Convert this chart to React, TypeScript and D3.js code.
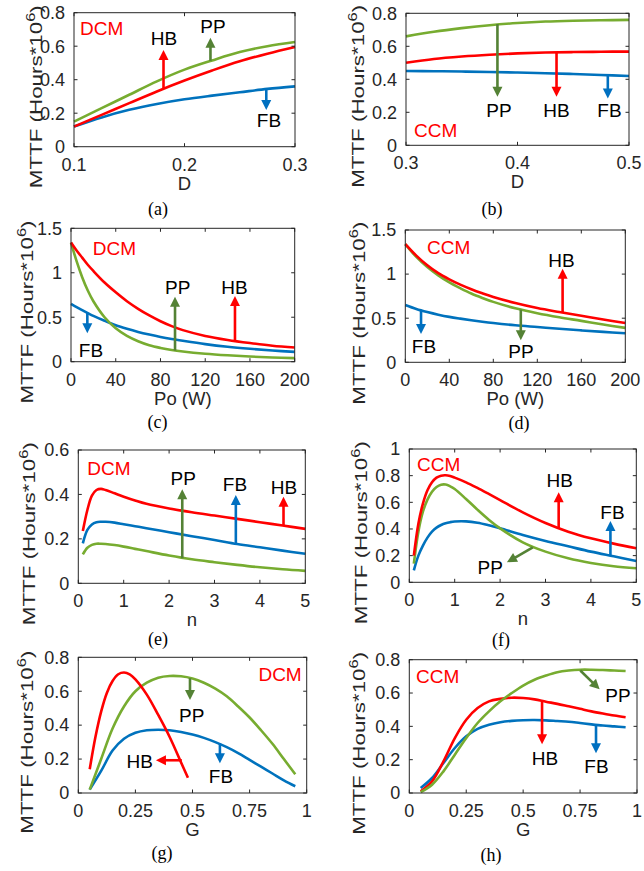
import React from 'react';
import * as d3 from 'd3';

// ---------- data ----------
// (a) DCM vs D
const aX = [0.1, 0.125, 0.15, 0.175, 0.2, 0.225, 0.25, 0.275, 0.3];
const aHB = [0.12, 0.19, 0.26, 0.33, 0.395, 0.455, 0.51, 0.555, 0.595];
const aPP = [0.15, 0.23, 0.31, 0.39, 0.46, 0.515, 0.565, 0.6, 0.625];
const aFB = [0.12, 0.175, 0.22, 0.255, 0.283, 0.305, 0.325, 0.345, 0.36];
// (b) CCM vs D
const bX = [0.3, 0.325, 0.35, 0.375, 0.4, 0.425, 0.45, 0.475, 0.5];
const bPP = [0.66, 0.688, 0.71, 0.728, 0.741, 0.75, 0.755, 0.758, 0.76];
const bHB = [0.5, 0.523, 0.538, 0.549, 0.557, 0.562, 0.565, 0.567, 0.568];
const bFB = [0.45, 0.449, 0.447, 0.444, 0.441, 0.437, 0.432, 0.426, 0.42];
// (c) DCM vs Po
const cX = [0, 5, 10, 15, 20, 30, 40, 50, 60, 70, 80, 90, 100, 120, 140, 160, 180, 200];
const cHB = [1.34, 1.25, 1.17, 1.09, 1.02, 0.89, 0.78, 0.68, 0.595, 0.52, 0.455, 0.4, 0.355, 0.29, 0.245, 0.21, 0.18, 0.16];
const cPP = [1.34, 1.13, 0.95, 0.8, 0.68, 0.5, 0.375, 0.29, 0.23, 0.185, 0.155, 0.132, 0.115, 0.09, 0.072, 0.058, 0.048, 0.04];
const cFB = [0.65, 0.614, 0.58, 0.547, 0.515, 0.46, 0.41, 0.37, 0.335, 0.305, 0.278, 0.255, 0.235, 0.198, 0.168, 0.145, 0.126, 0.11];
// (d) CCM vs Po
const dX = [0, 10, 20, 30, 40, 50, 60, 70, 80, 100, 120, 140, 160, 180, 200];
const dHB = [1.34, 1.21, 1.1, 1.01, 0.94, 0.88, 0.828, 0.782, 0.74, 0.672, 0.615, 0.57, 0.528, 0.485, 0.445];
const dPP = [1.34, 1.195, 1.08, 0.985, 0.905, 0.84, 0.78, 0.73, 0.685, 0.612, 0.556, 0.51, 0.47, 0.428, 0.39];
const dFB = [0.65, 0.605, 0.57, 0.54, 0.515, 0.495, 0.477, 0.46, 0.445, 0.42, 0.4, 0.38, 0.362, 0.345, 0.33];
// (e) DCM vs n
const eX = [0.1, 0.2, 0.3, 0.4, 0.5, 0.6, 0.8, 1, 1.25, 1.5, 2, 2.5, 3, 3.5, 4, 4.5, 5];
const eHB = [0.235, 0.33, 0.395, 0.42, 0.425, 0.42, 0.405, 0.39, 0.373, 0.358, 0.337, 0.32, 0.305, 0.29, 0.275, 0.26, 0.245];
const eFB = [0.18, 0.24, 0.265, 0.275, 0.277, 0.277, 0.273, 0.266, 0.257, 0.248, 0.23, 0.212, 0.195, 0.177, 0.162, 0.147, 0.133];
const ePP = [0.13, 0.16, 0.173, 0.178, 0.178, 0.177, 0.172, 0.165, 0.155, 0.145, 0.125, 0.108, 0.095, 0.083, 0.072, 0.063, 0.056];
// (f) CCM vs n
const fX = [0.1, 0.2, 0.3, 0.4, 0.5, 0.6, 0.7, 0.8, 0.9, 1, 1.25, 1.5, 1.75, 2, 2.5, 3, 3.5, 4, 4.5, 5];
const fHB = [0.2, 0.44, 0.59, 0.69, 0.75, 0.785, 0.8, 0.803, 0.797, 0.785, 0.75, 0.708, 0.663, 0.617, 0.525, 0.445, 0.38, 0.33, 0.29, 0.255];
const fPP = [0.14, 0.38, 0.53, 0.62, 0.68, 0.715, 0.732, 0.733, 0.72, 0.7, 0.625, 0.545, 0.47, 0.405, 0.3, 0.23, 0.18, 0.145, 0.12, 0.105];
const fFB = [0.09, 0.2, 0.275, 0.335, 0.38, 0.41, 0.43, 0.443, 0.451, 0.456, 0.457, 0.447, 0.428, 0.405, 0.355, 0.31, 0.27, 0.23, 0.195, 0.16];
// (g) DCM vs G
const gHBX = [0.05, 0.075, 0.1, 0.125, 0.15, 0.175, 0.2, 0.225, 0.25, 0.3, 0.35, 0.4, 0.45, 0.48];
const gHB = [0.14, 0.33, 0.48, 0.59, 0.66, 0.7, 0.71, 0.7, 0.67, 0.58, 0.46, 0.33, 0.18, 0.09];
const gX = [0.05, 0.1, 0.15, 0.2, 0.25, 0.3, 0.35, 0.4, 0.45, 0.5, 0.55, 0.6, 0.65, 0.7, 0.75, 0.8, 0.85, 0.9, 0.95];
const gPP = [0.02, 0.2, 0.38, 0.51, 0.6, 0.65, 0.68, 0.69, 0.688, 0.675, 0.65, 0.615, 0.57, 0.51, 0.445, 0.37, 0.29, 0.2, 0.11];
const gFB = [0.02, 0.13, 0.25, 0.32, 0.355, 0.37, 0.373, 0.37, 0.36, 0.345, 0.325, 0.3, 0.27, 0.235, 0.195, 0.155, 0.115, 0.075, 0.04];
// (h) CCM vs G
const hX = [0.05, 0.1, 0.15, 0.2, 0.25, 0.3, 0.35, 0.4, 0.45, 0.5, 0.55, 0.6, 0.65, 0.7, 0.75, 0.8, 0.85, 0.9, 0.95];
const hHB = [0.01, 0.07, 0.19, 0.33, 0.44, 0.51, 0.55, 0.565, 0.572, 0.57, 0.562, 0.548, 0.535, 0.52, 0.505, 0.49, 0.477, 0.465, 0.455];
const hFB = [0.03, 0.09, 0.18, 0.27, 0.34, 0.385, 0.41, 0.425, 0.433, 0.437, 0.438, 0.436, 0.432, 0.428, 0.42, 0.412, 0.405, 0.4, 0.395];
const hPP = [0.005, 0.05, 0.13, 0.23, 0.33, 0.42, 0.49, 0.55, 0.6, 0.645, 0.68, 0.705, 0.725, 0.735, 0.74, 0.74, 0.738, 0.735, 0.732];

// tick values
const tD1 = [0.1, 0.2, 0.3];
const tD2 = [0.3, 0.4, 0.5];
const tY08 = [0, 0.2, 0.4, 0.6, 0.8];
const tPo = [0, 40, 80, 120, 160, 200];
const tY15 = [0, 0.5, 1, 1.5];
const tN = [0, 1, 2, 3, 4, 5];
const tY06 = [0, 0.2, 0.4, 0.6];
const tY1 = [0, 0.2, 0.4, 0.6, 0.8, 1];
const tG = [0, 0.25, 0.5, 0.75, 1];

// ---------- styles ----------
const RED = '#FF0000';
const GREEN = '#77AC30';
const BLUE = '#0072BD';
const GREEN_A = '#548235';
const BLUE_A = '#0070C0';
const AX = '#262626';
const SANS = "'Liberation Sans', Arial, sans-serif";
const SERIF = "'Liberation Serif', 'Times New Roman', serif";

type S = { x: number[]; y: number[]; c: string };
type A = { f: [number, number]; t: [number, number]; c: string };
type L = { s: string; x: number; y: number; c?: string; a?: string };
type P = {
  box: [number, number, number, number];
  xd: [number, number]; yd: [number, number];
  xt: number[]; yt: number[];
  xl: string; cap: string; capX: number; capY: number;
  ylX: number;
  series: S[]; arrows: A[]; labels: L[];
};

const panels: P[] = [
  {
    box: [74, 295, 12.7, 146.7], xd: [0.1, 0.3], yd: [0, 0.8], xt: tD1, yt: tY08,
    xl: 'D', cap: '(a)', capX: 158, capY: 215, ylX: 42,
    series: [{ x: aX, y: aFB, c: BLUE }, { x: aX, y: aPP, c: GREEN }, { x: aX, y: aHB, c: RED }],
    arrows: [
      { f: [0.181, 0.345], t: [0.181, 0.577], c: RED },
      { f: [0.2235, 0.512], t: [0.2235, 0.65], c: GREEN_A },
      { f: [0.274, 0.344], t: [0.274, 0.219], c: BLUE_A },
    ],
    labels: [
      { s: 'DCM', x: 80, y: 35, c: RED, a: 'start' },
      { s: 'HB', x: 164, y: 45 }, { s: 'PP', x: 213, y: 33 }, { s: 'FB', x: 269, y: 127 },
    ],
  },
  {
    box: [406, 629, 13.3, 145.3], xd: [0.3, 0.5], yd: [0, 0.8], xt: tD2, yt: tY08,
    xl: 'D', cap: '(b)', capX: 492, capY: 215, ylX: 364,
    series: [{ x: bX, y: bFB, c: BLUE }, { x: bX, y: bPP, c: GREEN }, { x: bX, y: bHB, c: RED }],
    arrows: [
      { f: [0.382, 0.735], t: [0.382, 0.294], c: GREEN_A },
      { f: [0.435, 0.563], t: [0.435, 0.294], c: RED },
      { f: [0.481, 0.426], t: [0.481, 0.284], c: BLUE_A },
    ],
    labels: [
      { s: 'CCM', x: 414, y: 137, c: RED, a: 'start' },
      { s: 'PP', x: 499, y: 117 }, { s: 'HB', x: 556.5, y: 117 }, { s: 'FB', x: 609.5, y: 117 },
    ],
  },
  {
    box: [71, 294.7, 228.3, 361.7], xd: [0, 200], yd: [0, 1.5], xt: tPo, yt: tY15,
    xl: 'Po (W)', cap: '(c)', capX: 157.5, capY: 428, ylX: 33,
    series: [{ x: cX, y: cFB, c: BLUE }, { x: cX, y: cPP, c: GREEN }, { x: cX, y: cHB, c: RED }],
    arrows: [
      { f: [93, 0.125], t: [93, 0.73], c: GREEN_A },
      { f: [146.6, 0.235], t: [146.6, 0.74], c: RED },
      { f: [14.6, 0.55], t: [14.6, 0.32], c: BLUE_A },
    ],
    labels: [
      { s: 'DCM', x: 92.7, y: 255, c: RED, a: 'start' },
      { s: 'PP', x: 177.7, y: 294 }, { s: 'HB', x: 234.5, y: 294 }, { s: 'FB', x: 91, y: 357 },
    ],
  },
  {
    box: [405.3, 625.3, 230, 362.3], xd: [0, 200], yd: [0, 1.5], xt: tPo, yt: tY15,
    xl: 'Po (W)', cap: '(d)', capX: 519, capY: 429, ylX: 365,
    series: [{ x: dX, y: dFB, c: BLUE }, { x: dX, y: dPP, c: GREEN }, { x: dX, y: dHB, c: RED }],
    arrows: [
      { f: [143, 0.565], t: [143, 1.06], c: RED },
      { f: [105, 0.597], t: [105, 0.25], c: GREEN_A },
      { f: [14.3, 0.59], t: [14.3, 0.32], c: BLUE_A },
    ],
    labels: [
      { s: 'CCM', x: 427, y: 254, c: RED, a: 'start' },
      { s: 'HB', x: 561.5, y: 266.5 }, { s: 'PP', x: 521, y: 358 }, { s: 'FB', x: 424, y: 353 },
    ],
  },
  {
    box: [78.3, 305.3, 450, 583.3], xd: [0, 5], yd: [0, 0.6], xt: tN, yt: tY06,
    xl: 'n', cap: '(e)', capX: 158, capY: 645, ylX: 35,
    series: [{ x: eX, y: ePP, c: GREEN }, { x: eX, y: eFB, c: BLUE }, { x: eX, y: eHB, c: RED }],
    arrows: [
      { f: [2.29, 0.113], t: [2.29, 0.423], c: GREEN_A },
      { f: [3.47, 0.175], t: [3.47, 0.398], c: BLUE_A },
      { f: [4.52, 0.26], t: [4.52, 0.39], c: RED },
    ],
    labels: [
      { s: 'DCM', x: 87.3, y: 475, c: RED, a: 'start' },
      { s: 'PP', x: 183.3, y: 485 }, { s: 'FB', x: 235, y: 491 }, { s: 'HB', x: 284, y: 494 },
    ],
  },
  {
    box: [409.3, 636.3, 449, 582.3], xd: [0, 5], yd: [0, 1], xt: tN, yt: tY1,
    xl: 'n', cap: '(f)', capX: 501, capY: 646, ylX: 367,
    series: [{ x: fX, y: fFB, c: BLUE }, { x: fX, y: fPP, c: GREEN }, { x: fX, y: fHB, c: RED }],
    arrows: [
      { f: [3.29, 0.405], t: [3.29, 0.675], c: RED },
      { f: [4.43, 0.2], t: [4.43, 0.46], c: BLUE_A },
      { f: [2.72, 0.262], t: [2.15, 0.15], c: GREEN_A },
    ],
    labels: [
      { s: 'CCM', x: 417, y: 471, c: RED, a: 'start' },
      { s: 'HB', x: 559.8, y: 487 }, { s: 'FB', x: 612.5, y: 519 }, { s: 'PP', x: 490.3, y: 574 },
    ],
  },
  {
    box: [78.3, 306.7, 657.3, 793], xd: [0, 1], yd: [0, 0.8], xt: tG, yt: tY08,
    xl: 'G', cap: '(g)', capX: 162, capY: 859, ylX: 33,
    series: [{ x: gX, y: gFB, c: BLUE }, { x: gX, y: gPP, c: GREEN }, { x: gHBX, y: gHB, c: RED }],
    arrows: [
      { f: [0.489, 0.677], t: [0.489, 0.548], c: GREEN_A },
      { f: [0.62, 0.292], t: [0.62, 0.175], c: BLUE_A },
      { f: [0.453, 0.193], t: [0.34, 0.193], c: RED },
    ],
    labels: [
      { s: 'DCM', x: 301.7, y: 681, c: RED, a: 'end' },
      { s: 'PP', x: 191.7, y: 721.5 }, { s: 'FB', x: 221, y: 783 }, { s: 'HB', x: 139.7, y: 768 },
    ],
  },
  {
    box: [409.3, 637, 659.7, 793], xd: [0, 1], yd: [0, 0.8], xt: tG, yt: tY08,
    xl: 'G', cap: '(h)', capX: 491, capY: 861, ylX: 365,
    series: [{ x: hX, y: hFB, c: BLUE }, { x: hX, y: hHB, c: RED }, { x: hX, y: hPP, c: GREEN }],
    arrows: [
      { f: [0.751, 0.735], t: [0.836, 0.622], c: GREEN_A },
      { f: [0.583, 0.55], t: [0.583, 0.292], c: RED },
      { f: [0.82, 0.412], t: [0.82, 0.238], c: BLUE_A },
    ],
    labels: [
      { s: 'CCM', x: 416, y: 683, c: RED, a: 'start' },
      { s: 'PP', x: 618, y: 702 }, { s: 'HB', x: 545, y: 765 }, { s: 'FB', x: 596.5, y: 773 },
    ],
  },
];

function Arrow({ x1, y1, x2, y2, c }: { x1: number; y1: number; x2: number; y2: number; c: string }) {
  const dx = x2 - x1, dy = y2 - y1;
  const len = Math.hypot(dx, dy) || 1;
  const ux = dx / len, uy = dy / len;
  const hl = 10, hw = 5;
  const bx = x2 - ux * hl, by = y2 - uy * hl;
  const px = -uy, py = ux;
  const pts = [
    [x2, y2],
    [bx + px * hw, by + py * hw],
    [bx - px * hw, by - py * hw],
  ].map((p) => p.join(',')).join(' ');
  return (
    <g>
      <line x1={x1} y1={y1} x2={bx + ux * 1} y2={by + uy * 1} stroke={c} strokeWidth={2.6} />
      <polygon points={pts} fill={c} />
    </g>
  );
}

function Panel({ p }: { p: P }) {
  const [l, r, t, b] = p.box;
  const xs = d3.scaleLinear().domain(p.xd).range([l, r]);
  const ys = d3.scaleLinear().domain(p.yd).range([b, t]);
  const line = d3
    .line<[number, number]>()
    .x((d) => xs(d[0]))
    .y((d) => ys(d[1]))
    .curve(d3.curveCatmullRom.alpha(0.5));
  const tl = 3.5;
  const cy = (t + b) / 2 + 17;
  return (
    <g>
      {p.series.map((s, i) => (
        <path
          key={i}
          d={line(s.x.map((x, j) => [x, s.y[j]] as [number, number])) || ''}
          fill="none"
          stroke={s.c}
          strokeWidth={2.6}
          strokeLinejoin="round"
        />
      ))}
      <rect x={l} y={t} width={r - l} height={b - t} fill="none" stroke={AX} strokeWidth={1} />
      {p.xt.map((v, i) => (
        <g key={'x' + i}>
          <line x1={xs(v)} x2={xs(v)} y1={b} y2={b - tl} stroke={AX} />
          <line x1={xs(v)} x2={xs(v)} y1={t} y2={t + tl} stroke={AX} />
          <text x={xs(v)} y={b + 24} textAnchor="middle" fontFamily={SANS} fontSize={18} fill={AX}>
            {String(v)}
          </text>
        </g>
      ))}
      {p.yt.map((v, i) => (
        <g key={'y' + i}>
          <line x1={l} x2={l + tl} y1={ys(v)} y2={ys(v)} stroke={AX} />
          <line x1={r} x2={r - tl} y1={ys(v)} y2={ys(v)} stroke={AX} />
          <text x={l - 9} y={ys(v) + 6.3} textAnchor="end" fontFamily={SANS} fontSize={18} fill={AX}>
            {String(v)}
          </text>
        </g>
      ))}
      <text x={(l + r) / 2} y={b + 43} textAnchor="middle" fontFamily={SANS} fontSize={18.5} fill={AX}>
        {p.xl}
      </text>
      <text
        transform={`translate(${p.ylX},${cy}) rotate(-90)`}
        textAnchor="middle"
        fontFamily={SANS}
        fontSize={17}
        fill={AX}
        textLength={183}
        lengthAdjust="spacingAndGlyphs"
      >
        MTTF (Hours*10
        <tspan dy={-7} fontSize={12.5}>6</tspan>
        <tspan dy={7}>)</tspan>
      </text>
      {p.arrows.map((a, i) => (
        <Arrow key={i} x1={xs(a.f[0])} y1={ys(a.f[1])} x2={xs(a.t[0])} y2={ys(a.t[1])} c={a.c} />
      ))}
      {p.labels.map((lb, i) => (
        <text
          key={'l' + i}
          x={lb.x}
          y={lb.y}
          textAnchor={lb.a || 'middle'}
          fontFamily={SANS}
          fontSize={19}
          fill={lb.c || '#000'}
        >
          {lb.s}
        </text>
      ))}
      <text x={p.capX} y={p.capY} textAnchor="middle" fontFamily={SERIF} fontSize={18} fill="#000">
        {p.cap}
      </text>
    </g>
  );
}

export default function App() {
  return (
    <svg
      width={644}
      height={871}
      viewBox="0 0 644 871"
      style={{ position: 'absolute', left: 0, top: 0, background: '#fff' }}
    >
      <rect x={0} y={0} width={644} height={871} fill="#fff" />
      {panels.map((p, i) => (
        <Panel key={i} p={p} />
      ))}
    </svg>
  );
}
